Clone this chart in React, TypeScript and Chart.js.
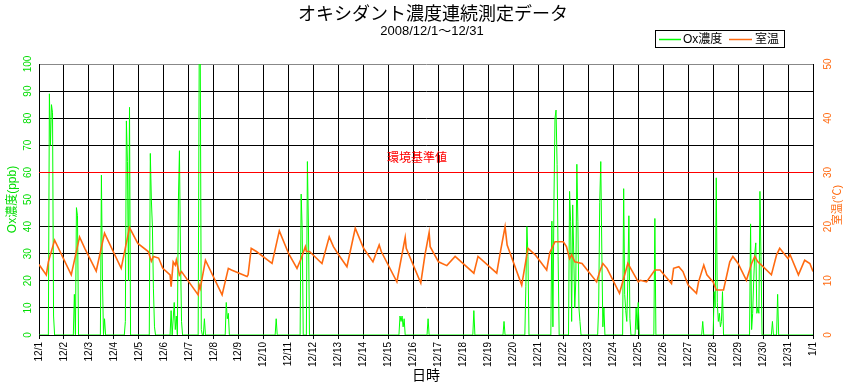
import React, { useEffect, useRef } from 'react';
import { Chart, registerables } from 'chart.js';

Chart.register(...registerables);

const titleText = 'オキシダント濃度連続測定データ';
const subtitleText = '2008/12/1～12/31';
const oxLabel = 'Ox濃度';
const tempLabel = '室温';
const xTitle = '日時';
const yLeftTitle = 'Ox濃度(ppb)';
const yRightTitle = '室温(℃)';
const standardLabel = '環境基準値';
const standardValue = 60;

const dayLabels = [
  '12/1', '12/2', '12/3', '12/4', '12/5', '12/6', '12/7', '12/8', '12/9', '12/10',
  '12/11', '12/12', '12/13', '12/14', '12/15', '12/16', '12/17', '12/18', '12/19', '12/20',
  '12/21', '12/22', '12/23', '12/24', '12/25', '12/26', '12/27', '12/28', '12/29', '12/30',
  '12/31', '1/1',
];

// hours since 2008/12/1 00:00
const oxHours = [
  0,
  9, 10, 11, 12, 13, 14, 15,
  33, 34, 35, 36, 37, 38,
  59, 60, 61, 62, 63, 64,
  82, 83, 84, 85, 86, 87, 88,
  106, 107, 108, 109, 110, 111, 112,
  126, 127, 128, 130, 131, 132, 133, 134, 135, 136, 137, 138,
  153, 154, 155, 156, 157, 158, 159, 160,
  179, 180, 181, 182, 183,
  227, 228, 229,
  251, 252, 253, 254, 257, 258, 259, 260,
  346, 347, 348, 349, 350, 351, 352,
  373, 374, 375,
  417, 418, 419,
  446, 447, 448,
  467, 468, 469, 470, 471,
  492, 493, 494, 495, 496, 497, 498, 499, 500,
  509, 510, 511, 512, 513, 514, 515, 516, 517, 518, 519, 520, 521,
  537, 538, 539, 540, 541, 542, 543, 544,
  561, 562, 563, 564, 565, 566, 567, 568, 569,
  573, 574, 575, 576, 577,
  591, 592, 593,
  637, 638, 639,
  648, 649, 650, 651, 652, 653, 654, 655, 656, 657, 658,
  683, 684, 685, 686, 687, 688, 689, 690, 691, 692, 693, 694, 695,
  704, 705, 706, 709, 710, 711,
  744,
];
const oxValues = [
  0,
  0, 89, 70, 85, 82, 7, 0,
  0, 15, 0, 47, 44, 0,
  0, 59, 20, 0, 6, 0,
  0, 5, 79, 64, 20, 84, 0,
  0, 67, 50, 40, 17, 3, 0,
  0, 9, 0, 12, 2, 7, 0, 50, 68, 30, 5, 0,
  0, 104, 104, 2, 0, 0, 6, 0,
  0, 12, 6, 8, 0,
  0, 6, 0,
  0, 52, 39, 0, 0, 64, 40, 0,
  0, 7, 5, 7, 3, 6, 0,
  0, 6, 0,
  0, 9, 0,
  0, 5, 0,
  0, 18, 40, 29, 0,
  0, 42, 3, 50, 80, 83, 63, 29, 0,
  0, 53, 42, 5, 48, 30, 10, 20, 63, 42, 10, 5, 0,
  0, 11, 49, 64, 31, 3, 10, 0,
  0, 54, 15, 9, 5, 20, 44, 6, 0,
  0, 10, 2, 12, 0,
  0, 43, 0,
  0, 5, 0,
  0, 16, 10, 58, 12, 5, 8, 3, 5, 16, 0,
  0, 41, 2, 8, 20, 30, 34, 8, 10, 8, 53, 29, 0,
  0, 5, 0, 0, 15, 0,
  0,
];

const tempHours = [
  0, 7, 9, 15, 31, 39, 44, 55, 63, 79, 87, 95, 105, 108, 110, 115, 119,
  126, 127, 129, 131, 132, 134, 135, 137, 153, 154, 155, 160, 176, 182, 185,
  200, 201, 204, 209, 224, 231, 240, 248, 252, 256, 257, 260, 272, 279, 283,
  288, 296, 304, 312, 321, 327, 329, 344, 352, 353, 367, 371, 375, 376, 384,
  392, 400, 418, 422, 440, 443, 448, 450, 464, 470, 477, 488, 491, 496, 504,
  507, 510, 512, 515, 522, 536, 539, 542, 546, 558, 563, 566, 576, 578, 584,
  592, 597, 608, 610, 615, 619, 624, 632, 634, 639, 642, 648, 651, 658, 664,
  667, 672, 680, 685, 688, 691, 696, 704, 709, 712, 717, 720, 722, 730, 736,
  741, 744,
];
const tempValues = [
  13.0, 11.1, 13.5, 17.5, 11.1, 18.1, 16.0, 11.8, 18.8, 12.3, 19.8, 16.9, 15.4, 13.6, 14.5, 14.2, 12.3,
  11.1, 8.9, 13.5, 12.9, 13.8, 12.0, 11.1, 11.7, 7.4, 9.2, 8.6, 13.8, 7.4, 12.3, 12.0,
  10.8, 11.1, 16.0, 15.4, 13.2, 19.2, 15.0, 12.3, 14.1, 16.3, 15.4, 15.4, 13.2, 18.1, 16.3,
  14.8, 12.6, 19.7, 16.0, 13.5, 16.6, 15.4, 9.8, 18.0, 16.0, 9.6, 14.8, 18.9, 16.3, 13.5,
  12.8, 14.5, 11.4, 14.5, 11.4, 14.8, 20.0, 16.6, 9.2, 16.0, 14.8, 12.0, 15.2, 17.2, 17.2,
  16.3, 14.1, 14.8, 13.5, 13.2, 9.8, 11.7, 13.2, 12.3, 7.7, 11.1, 13.2, 9.8, 10.1, 9.8,
  12.0, 12.0, 9.5, 12.3, 12.6, 11.7, 9.2, 7.7, 9.8, 12.9, 11.1, 9.8, 8.3, 8.3, 13.5,
  14.5, 13.2, 10.1, 13.2, 14.5, 13.5, 12.6, 11.1, 14.8, 16.0, 14.8, 14.1, 14.8, 11.1, 13.8,
  13.2, 11.7,
];

const GREEN = '#00ff00';
const GREEN_TEXT = '#00dd00';
const ORANGE = '#ff6a10';
const FONT = "'Liberation Sans', 'Noto Sans CJK JP', sans-serif";
const JFONT = "'Noto Sans CJK JP', 'Liberation Sans', sans-serif";

function drawRotated(ctx: any, text: string, x: number, y: number, color: string, font: string) {
  ctx.save();
  ctx.translate(x, y);
  ctx.rotate(-Math.PI / 2);
  ctx.fillStyle = color;
  ctx.font = font;
  ctx.textAlign = 'center';
  ctx.textBaseline = 'middle';
  ctx.fillText(text, 0, 0);
  ctx.restore();
}

const overlayPlugin = {
  id: 'overlay',
  afterDraw(chart: any) {
    const { ctx, chartArea } = chart;
    ctx.save();
    // environmental standard line + label
    const sy = Math.round(chart.scales.y.getPixelForValue(standardValue) - 0.5) + 0.5;
    ctx.strokeStyle = '#ff0000';
    ctx.lineWidth = 1;
    ctx.beginPath();
    ctx.moveTo(chartArea.left, sy);
    ctx.lineTo(chartArea.right, sy);
    ctx.stroke();
    ctx.fillStyle = '#ff0000';
    ctx.font = `12px ${JFONT}`;
    ctx.textAlign = 'center';
    ctx.textBaseline = 'middle';
    ctx.fillText(standardLabel, 417, sy - 15);
    // titles
    ctx.fillStyle = '#000';
    ctx.font = `18px ${JFONT}`;
    ctx.fillText(titleText, 433, 13);
    ctx.font = `13px ${FONT}`;
    ctx.fillText(subtitleText, 432, 31);
    // legend
    ctx.strokeStyle = '#000';
    ctx.lineWidth = 1;
    ctx.strokeRect(655.5, 30.5, 129, 17);
    ctx.strokeStyle = GREEN;
    ctx.lineWidth = 1.5;
    ctx.beginPath();
    ctx.moveTo(659, 39.5);
    ctx.lineTo(681, 39.5);
    ctx.stroke();
    ctx.strokeStyle = ORANGE;
    ctx.beginPath();
    ctx.moveTo(729, 39.5);
    ctx.lineTo(752, 39.5);
    ctx.stroke();
    ctx.fillStyle = '#000';
    ctx.textAlign = 'left';
    ctx.font = `12px ${FONT}`;
    ctx.fillText(oxLabel, 683, 39.5);
    ctx.fillText(tempLabel, 755, 39.5);
    // x title
    ctx.textAlign = 'center';
    ctx.font = `14px ${JFONT}`;
    ctx.fillText(xTitle, (chartArea.left + chartArea.right) / 2, 375);
    // y tick labels (rotated), positioned by the library's scales
    const yl = chart.scales.y;
    yl.ticks.forEach((t: any) => {
      drawRotated(ctx, String(t.value), 28.5, yl.getPixelForValue(t.value), GREEN_TEXT, `10px ${FONT}`);
    });
    const yr = chart.scales.y1;
    yr.ticks.forEach((t: any) => {
      drawRotated(ctx, String(t.value), 828.5, yr.getPixelForValue(t.value), ORANGE, `10px ${FONT}`);
    });
    // axis titles
    drawRotated(ctx, yLeftTitle, 12.5, (chartArea.top + chartArea.bottom) / 2, GREEN_TEXT, `12px ${FONT}`);
    drawRotated(ctx, yRightTitle, 837.5, 205, ORANGE, `11px ${FONT}`);
    ctx.restore();
  },
};

export default function App() {
  const canvasRef = useRef<HTMLCanvasElement | null>(null);

  useEffect(() => {
    document.body.style.margin = '0';
    const canvas = canvasRef.current;
    if (!canvas) return;
    const chart = new Chart(canvas, {
      type: 'line',
      data: {
        datasets: [
          {
            label: tempLabel,
            data: tempHours.map((h, i) => ({ x: h, y: tempValues[i] })),
            borderColor: ORANGE,
            borderWidth: 1.6,
            pointRadius: 0,
            tension: 0,
            yAxisID: 'y1',
            order: 0,
          },
          {
            label: oxLabel,
            data: oxHours.map((h, i) => ({ x: h, y: oxValues[i] })),
            borderColor: GREEN,
            borderWidth: 1,
            pointRadius: 0,
            tension: 0,
            yAxisID: 'y',
            order: 1,
          },
        ],
      },
      options: {
        responsive: false,
        animation: false,
        events: [],
        layout: { padding: { top: 64, left: 0, right: 0, bottom: 0 } },
        plugins: {
          legend: { display: false },
          title: { display: false },
          tooltip: { enabled: false },
        },
        scales: {
          x: {
            type: 'linear',
            min: 0,
            max: 744,
            afterFit: (s: any) => { s.height = 51; },
            ticks: {
              stepSize: 24,
              autoSkip: false,
              minRotation: 90,
              maxRotation: 90,
              padding: 3,
              color: '#000',
              font: { size: 10, family: FONT },
              callback: (v: any) => dayLabels[Math.round(Number(v) / 24)] ?? '',
            },
            grid: { color: '#000', tickLength: 4, drawTicks: true },
            border: { color: '#000' },
          },
          y: {
            position: 'left',
            min: 0,
            max: 100,
            afterFit: (s: any) => { s.width = 39; },
            ticks: { stepSize: 10, display: false },
            grid: {
              drawTicks: false,
              color: (c: any) => (c.tick && c.tick.value === 100 ? '#888' : '#000'),
            },
            border: { color: '#000' },
          },
          y1: {
            position: 'right',
            min: 0,
            max: 50,
            afterFit: (s: any) => { s.width = 36; },
            ticks: { stepSize: 10, display: false },
            grid: { display: false, drawTicks: false },
            border: { color: '#000' },
          },
        },
      },
      plugins: [overlayPlugin],
    } as any);
    return () => chart.destroy();
  }, []);

  return (
    <div style={{ width: 849, height: 386 }}>
      <canvas ref={canvasRef} width={849} height={386} />
    </div>
  );
}
